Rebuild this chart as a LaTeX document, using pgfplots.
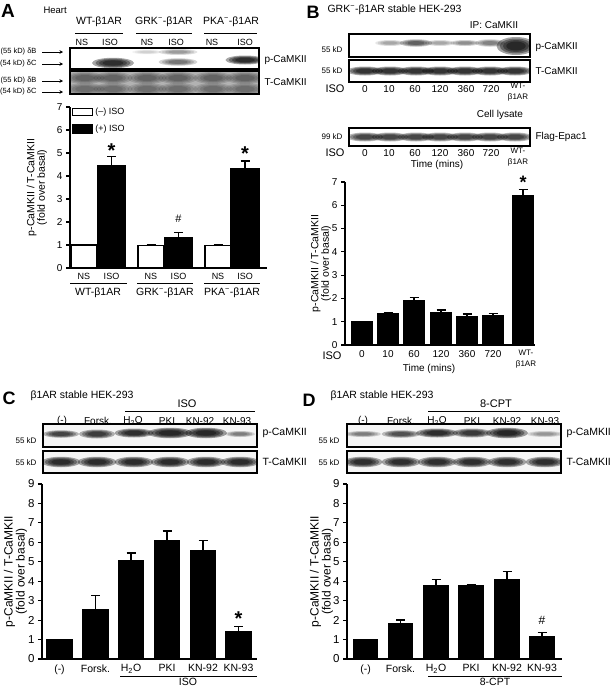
\documentclass[border=0pt]{standalone}
\usepackage{pgfplots}
\pgfplotsset{compat=1.18}
\usetikzlibrary{arrows.meta}
\usepackage{fontspec}
\setmainfont{Liberation Sans}
\newcommand{\fs}[1]{\fontsize{#1}{#1}\selectfont}
\newcommand{\band}[5]{%
  \pgfmathsetmacro\bandop{#5/260}%
  \foreach \s in {1.5,1.25,1.0,0.75}{%
    \fill[black, opacity=\bandop] (#1,#2) ellipse ({\s*#3pt} and {\s*#4pt});}}
\newcommand{\blot}[6]{%
  \begin{scope}
    \clip (#1,#2) rectangle (#3,#4);
    \fill[#5] (#1,#2) rectangle (#3,#4);
    #6
  \end{scope}
  \draw[line width=1.1pt] (#1,#2) rectangle (#3,#4);}
\pgfplotsset{
  barchart/.style={
    anchor=south west, scale only axis, ymin=0, clip=false,
    axis x line=bottom, axis y line=left,
    axis line style={-, line width=1.4pt, black},
    every outer x axis line/.append style={-},
    every outer y axis line/.append style={-},
    ytick align=outside, major tick length=4pt,
    y tick style={line width=1.1pt, black},
    x tick style={draw=none}, xtick style={draw=none},
    /pgf/number format/assume math mode=true,
    ylabel style={align=center},
  },
  barplot/.style={ybar, bar shift=0pt, draw=black, line width=1.1pt,
    error bars/.cd, y dir=plus, y explicit,
    error bar style={line width=1.2pt, black},
    error mark options={rotate=90, mark size=4.5pt, line width=1.2pt, black}},
}
\begin{document}
\begin{tikzpicture}
\path[use as bounding box] (0pt,0pt) rectangle (613pt,-688pt);

% ---------------- Panel A chart ----------------
\begin{axis}[barchart, at={(70pt,-268pt)}, width=197pt, height=161pt,
  xmin=0, xmax=197, ymax=7, ytick={0,...,7},
  xtick={14,41.5,81,108.5,148,175}, xticklabels={NS,ISO,NS,ISO,NS,ISO},
  xticklabel style={font=\fs{9}},
  yticklabel style={font=\fs{10}},
  ylabel={p-CaMKII / T-CaMKII\\(fold over basal)}, ylabel style={font=\fs{10.5}},
  ylabel shift=3pt,
  legend style={at={(axis cs:2,7.05)}, anchor=north west, draw=none, fill=none,
    font=\fs{9}, row sep=5pt, inner sep=0pt},
  legend cell align=left,
]
\addlegendimage{legend image code/.code={\draw[fill=white,draw=black,line width=1.2pt] (0pt,-3.5pt) rectangle (20pt,3.5pt);}}
\addlegendentry{(–) ISO}
\addlegendimage{legend image code/.code={\draw[fill=black,draw=black,line width=1.2pt] (0pt,-4pt) rectangle (20pt,4pt);}}
\addlegendentry{(+) ISO}
\addplot[fill=white, bar width=26, barplot] table[x=x, y=y, y error=e] {
x y e
14 1.0 0
81 0.97 0.05
148 0.97 0.05
};
\addplot[fill=black, bar width=28, barplot] table[x=x, y=y, y error=e] {
x y e
41.5 4.47 0.38
108.5 1.33 0.23
175 4.33 0.32
};
\node[font=\fs{20}\bfseries, anchor=base, yshift=-11pt] at (axis cs:41.5,5.3) {*};
\node[font=\fs{11}] at (axis cs:108.5,2.14) {\#};
\node[font=\fs{20}\bfseries, anchor=base, yshift=-11pt] at (axis cs:175,5.17) {*};
\end{axis}

% ---------------- Panel B chart ----------------
\begin{axis}[barchart, at={(345pt,-345pt)}, width=190pt, height=163pt,
  xmin=0, xmax=190, ymax=7, ytick={0,...,7},
  xtick={17,43,69,96,122,148,178}, xticklabels={0,10,60,120,360,720,{}},
  xticklabel style={font=\fs{10}},
  yticklabel style={font=\fs{10}},
  ylabel={p-CaMKII / T-CaMKII\\(fold over basal)}, ylabel style={font=\fs{10.5}},
  ylabel shift=-6pt,
]
\addplot[fill=black, bar width=20, barplot] table[x=x, y=y, y error=e] {
x y e
17 1.0 0
43 1.33 0.07
69 1.9 0.14
96 1.39 0.11
122 1.21 0.12
148 1.27 0.09
178 6.43 0.24
};
\node[font=\fs{18}\bfseries, anchor=base, yshift=-10pt] at (axis cs:178,7.15) {*};
\end{axis}

% ---------------- Panel C chart ----------------
\begin{axis}[barchart, at={(42pt,-659pt)}, width=215pt, height=175pt,
  xmin=0, xmax=215, ymax=9, ytick={0,...,9},
  xtick={17.5,53.5,89,125,161,196.5},
  xticklabels={(-),Forsk.,H\textsubscript{2}O,PKI,KN-92,KN-93},
  xticklabel style={font=\fs{10.5}},
  yticklabel style={font=\fs{11.5}},
  ylabel={p-CaMKII / T-CaMKII\\(fold over basal)}, ylabel style={font=\fs{12}},
  ylabel shift=-6pt,
]
\addplot[fill=black, bar width=25, barplot] table[x=x, y=y, y error=e] {
x y e
17.5 1.0 0
53.5 2.52 0.74
89 5.08 0.37
125 6.07 0.51
161 5.59 0.49
196.5 1.41 0.28
};
\node[font=\fs{20}\bfseries, anchor=base, yshift=-11pt] at (axis cs:196.5,2.3) {*};
\end{axis}

% ---------------- Panel D chart ----------------
\begin{axis}[barchart, at={(347pt,-659pt)}, width=215pt, height=175pt,
  xmin=0, xmax=215, ymax=9, ytick={0,...,9},
  xtick={18.5,53.5,89,124,160,195},
  xticklabels={(-),Forsk.,H\textsubscript{2}O,PKI,KN-92,KN-93},
  xticklabel style={font=\fs{10.5}},
  yticklabel style={font=\fs{11.5}},
  ylabel={p-CaMKII / T-CaMKII\\(fold over basal)}, ylabel style={font=\fs{12}},
  ylabel shift=-7pt,
]
\addplot[fill=black, bar width=24, barplot] table[x=x, y=y, y error=e] {
x y e
18.5 1.0 0
53.5 1.81 0.2
89 3.77 0.32
124 3.77 0.08
160 4.09 0.39
195 1.16 0.2
};
\node[font=\fs{12}] at (axis cs:195,1.98) {\#};
\end{axis}

% ---------------- decorations (pixel coordinates) ----------------
\begin{scope}[x=1pt,y=-1pt]
% ===== Panel A =====
\node[font=\fs{19}\bfseries] at (8,11) {A};
\node[anchor=west, font=\fs{9.5}] at (40,10) {Heart};
\node[font=\fs{10.5}] at (99,22) {WT-β1AR};
\node[font=\fs{10.5}] at (164,22) {GRK\textsuperscript{−}-β1AR};
\node[font=\fs{10.5}] at (231,22) {PKA\textsuperscript{−}-β1AR};
\draw[line width=0.8pt] (75,33) -- (123,33) (136,33) -- (192,33) (204,33) -- (257,33);
\foreach \x/\t in {82/NS,110/ISO,147/NS,176/ISO,212/NS,245/ISO}
  \node[font=\fs{9}] at (\x,42) {\t};
\blot{70}{48}{259}{69}{white}{%
  \band{147}{52}{10}{1.5}{12}
  \band{113}{63}{14}{3.5}{90}
  \band{178}{52}{13}{2}{30}
  \band{178}{62}{13}{2.5}{45}
  \band{245}{60}{13}{3}{90}}
\blot{70}{71}{259}{94}{gray!60}{%
  \foreach \x in {85,113,147,178,213,245}{\band{\x}{78}{13}{4}{35}\band{\x}{89}{13}{4}{30}}}
\foreach \y/\t in {52/{(55 kD) δB},64/{(54 kD) δC},81/{(55 kD) δB},92/{(54 kD) δC}}{
  \node[anchor=east, font=\fs{7.5}] at (40,\y) {\t};
  \draw[-{Stealth[length=3.5pt,width=3.5pt]}, line width=0.7pt] (42,\y) -- (63,\y);}
\node[anchor=west, font=\fs{10}] at (261,60) {p-CaMKII};
\node[anchor=west, font=\fs{10}] at (261,82) {T-CaMKII};
% below chart A
\draw[line width=0.8pt] (70,283) -- (127,283) (137,283) -- (193,283) (204,283) -- (260,283);
\node[font=\fs{10.5}] at (98,293) {WT-β1AR};
\node[font=\fs{10.5}] at (165,293) {GRK\textsuperscript{−}-β1AR};
\node[font=\fs{10.5}] at (232,293) {PKA\textsuperscript{−}-β1AR};

% ===== Panel B =====
\node[font=\fs{18}\bfseries] at (313,12) {B};
\node[anchor=west, font=\fs{10.5}] at (324,10) {GRK\textsuperscript{−}-β1AR stable HEK-293};
\node[font=\fs{10}] at (494,25) {IP: CaMKII};
\blot{349}{34}{530}{57}{white}{%
  \band{390}{43}{10}{2}{25}
  \band{416}{43}{11}{2.5}{55}
  \band{440}{43}{10}{2}{25}
  \band{465}{43}{10}{2}{35}
  \band{490}{43}{10}{2.5}{40}
  \band{516}{46}{13}{6}{95}}
\blot{349}{60}{530}{82}{white}{%
  \foreach \x in {365,390,416,440,465,490,515}{\band{\x}{71}{12}{3}{85}}}
\node[anchor=east, font=\fs{8}] at (346,50) {55 kD};
\node[anchor=east, font=\fs{8}] at (346,71) {55 kD};
\node[anchor=west, font=\fs{10}] at (532,47) {p-CaMKII};
\node[anchor=west, font=\fs{10}] at (532,71) {T-CaMKII};
\node[font=\fs{11}] at (335,89) {ISO};
\foreach \x/\t in {365/0,389/10,415/60,440/120,466/360,491/720}
  \node[font=\fs{10}] at (\x,89) {\t};
\node[font=\fs{8}] at (518,86) {WT-};
\node[font=\fs{8}] at (518,97) {β1AR};
\node[font=\fs{10}] at (500,115) {Cell lysate};
\blot{349}{128}{530}{146}{white}{%
  \foreach \x in {365,390,416,440,465,490,515}{\band{\x}{137}{12}{3}{70}}}
\node[anchor=east, font=\fs{8}] at (346,137) {99 kD};
\node[anchor=west, font=\fs{10}] at (532,137) {Flag-Epac1};
\node[font=\fs{11}] at (335,153) {ISO};
\foreach \x/\t in {365/0,389/10,415/60,440/120,466/360,491/720}
  \node[font=\fs{10}] at (\x,153) {\t};
\node[font=\fs{8}] at (518,151) {WT-};
\node[font=\fs{8}] at (518,162) {β1AR};
\node[font=\fs{10}] at (437,165) {Time (mins)};
% below chart B
\node[font=\fs{11}] at (332,356) {ISO};
\node[font=\fs{10}] at (429,369) {Time (mins)};
\node[font=\fs{8}] at (526,353) {WT-};
\node[font=\fs{8}] at (526,364) {β1AR};

% ===== Panel C =====
\node[font=\fs{18}\bfseries] at (9,398) {C};
\node[anchor=west, font=\fs{10.5}] at (27,396) {β1AR stable HEK-293};
\node[font=\fs{11}] at (187,404) {ISO};
\draw[line width=0.8pt] (125,411) -- (255,411);
\foreach \x/\t in {62/(-),98/Forsk.,133/H\textsubscript{2}O,167/PKI,200/KN-92,237/KN-93}
  \node[font=\fs{10}] at (\x,421) {\t};
\blot{43}{424}{257}{447}{gray!8}{%
  \band{61}{434}{12}{2.5}{70}
  \band{97}{434}{12}{3}{75}
  \band{134}{433}{13}{3}{88}
  \band{170}{433}{15}{3.5}{95}
  \band{206}{433}{14}{3.5}{95}
  \band{240}{434}{10}{2}{40}}
\blot{43}{451}{257}{473}{gray!8}{%
  \foreach \x in {61,97,134,170,206,240}{\band{\x}{462}{13}{3.5}{90}}}
\node[anchor=east, font=\fs{8}] at (40,441) {55 kD};
\node[anchor=east, font=\fs{8}] at (40,463) {55 kD};
\node[anchor=west, font=\fs{10.5}] at (259,433) {p-CaMKII};
\node[anchor=west, font=\fs{10.5}] at (259,462) {T-CaMKII};
\draw[line width=0.8pt] (120,676) -- (257,676);
\node[font=\fs{10.5}] at (188,681.5) {ISO};

% ===== Panel D =====
\node[font=\fs{18}\bfseries] at (309,400) {D};
\node[anchor=west, font=\fs{10.5}] at (327,396) {β1AR stable HEK-293};
\node[font=\fs{11}] at (496,404) {8-CPT};
\draw[line width=0.8pt] (428,411) -- (560,411);
\foreach \x/\t in {363/(-),401/Forsk.,437/H\textsubscript{2}O,472/PKI,507/KN-92,545/KN-93}
  \node[font=\fs{10}] at (\x,421) {\t};
\blot{347}{424}{561}{447}{gray!8}{%
  \band{363}{434}{12}{2}{40}
  \band{401}{434}{13}{2.5}{62}
  \band{437}{433}{14}{3}{88}
  \band{472}{433}{13}{3}{78}
  \band{507}{433}{14}{3.5}{95}
  \band{545}{434}{12}{2}{30}}
\blot{347}{451}{561}{473}{gray!8}{%
  \foreach \x in {363,401,437,472,507,545}{\band{\x}{462}{13}{3.5}{88}}}
\node[anchor=east, font=\fs{8}] at (343,441) {55 kD};
\node[anchor=east, font=\fs{8}] at (343,463) {55 kD};
\node[anchor=west, font=\fs{10.5}] at (563,433) {p-CaMKII};
\node[anchor=west, font=\fs{10.5}] at (563,462) {T-CaMKII};
\draw[line width=0.8pt] (428,676) -- (562,676);
\node[font=\fs{10.5}] at (495,681.5) {8-CPT};
\end{scope}
\end{tikzpicture}
\end{document}
